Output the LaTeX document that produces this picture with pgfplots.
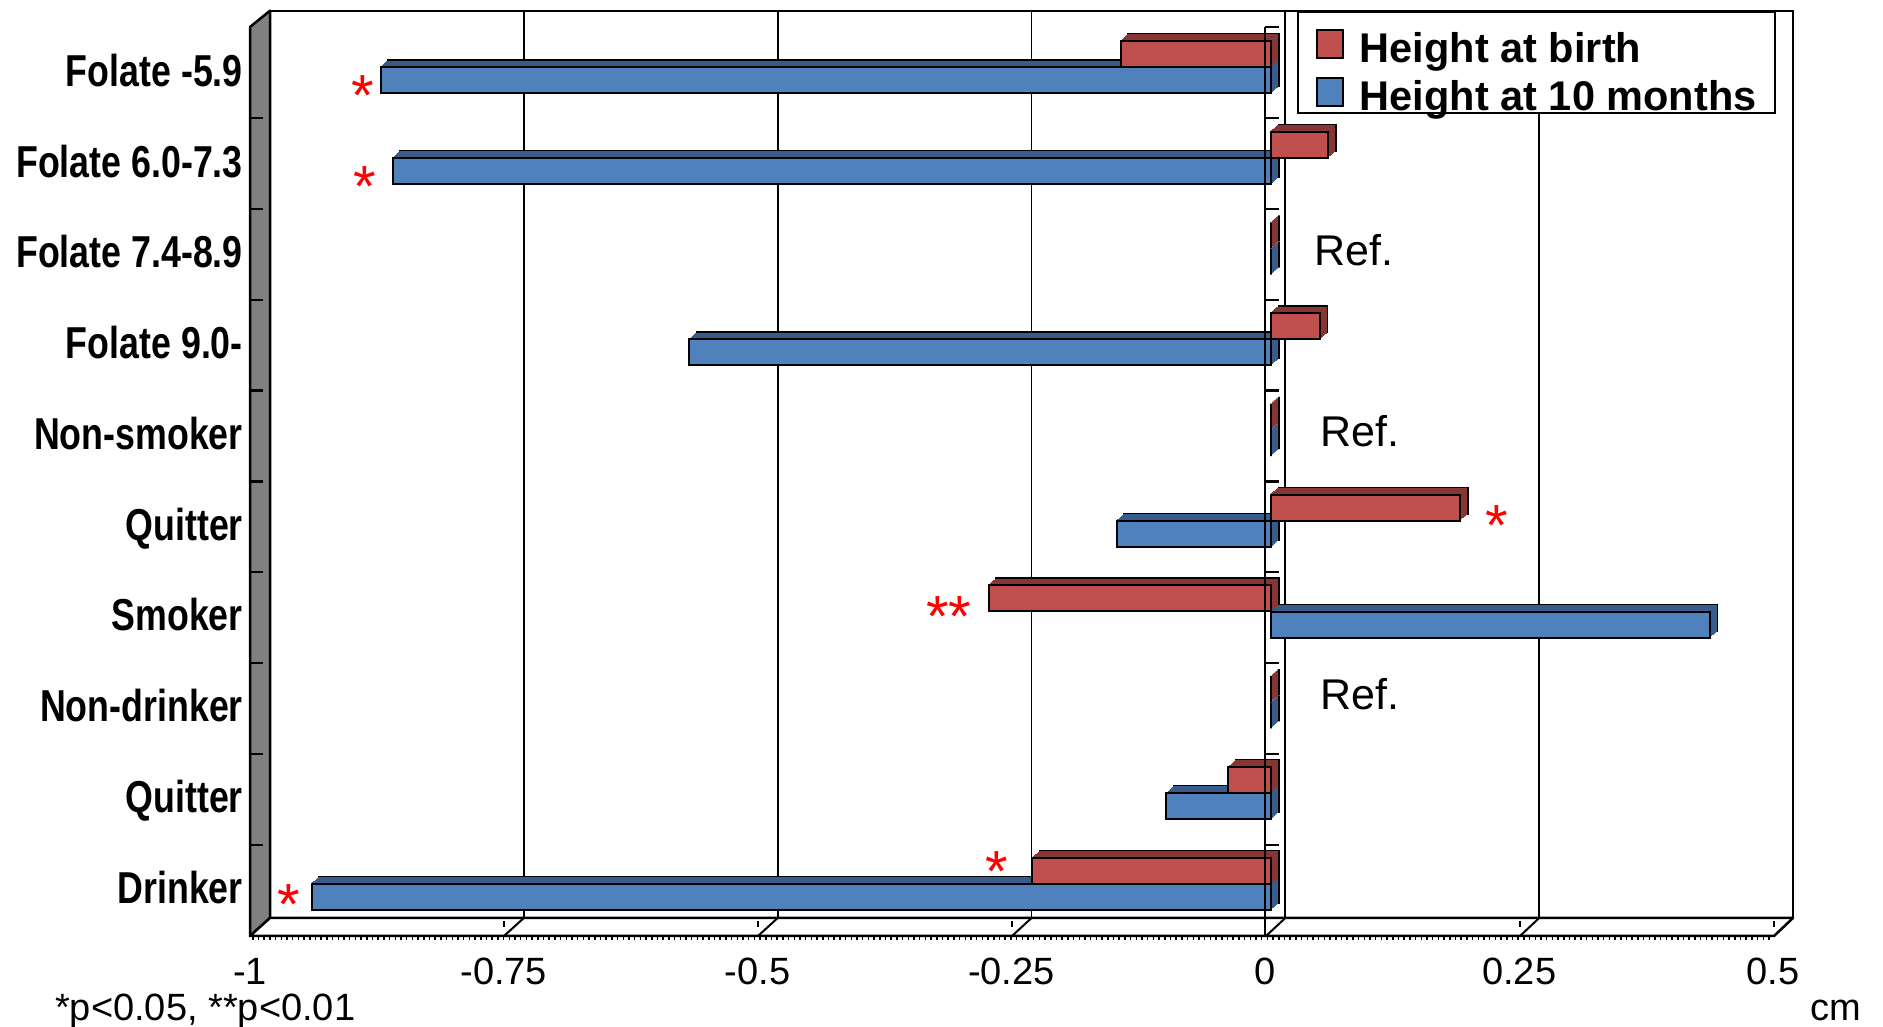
\documentclass[border=0pt]{standalone}
\usepackage{pgfplots}
\pgfplotsset{compat=1.18}
\usepackage{pgfplotstable}
\usepackage{fontspec}
\setmainfont{Liberation Sans}
\newfontfamily\catfont[FakeStretch=0.8]{Liberation Sans Bold}
\newfontfamily\boldfont{Liberation Sans Bold}
\definecolor{redF}{HTML}{C0504D}
\definecolor{redD}{HTML}{883634}
\definecolor{blueF}{HTML}{4F81BD}
\definecolor{blueD}{HTML}{385D8C}
\definecolor{wallgray}{HTML}{808080}

\pgfplotstableread{
y v
0.5 -0.148
1.5 0.056
2.5 0
3.5 0.048
4.5 0
5.5 0.186
6.5 -0.278
7.5 0
8.5 -0.042
9.5 -0.235
}\birth
\pgfplotstableread{
y v
0.5 -0.877
1.5 -0.865
2.5 0
3.5 -0.573
4.5 0
5.5 -0.152
6.5 0.432
7.5 0
8.5 -0.103
9.5 -0.945
}\tenmonths

\pgfplotsset{
  depth/.style 2 args={forget plot, xbar, bar width=26pt, bar shift=0pt, line width=1pt, xshift=#1, yshift=#2},
  face/.style 2 args={forget plot, xbar, bar width=26pt, bar shift=0pt, draw=black, line width=2pt, xshift=#1, yshift=#2},
}

\begin{document}
\begin{tikzpicture}
\fill[white] (0,0) rectangle (1883pt,1026pt);
\useasboundingbox (0,0) rectangle (1883pt,1026pt);
\begin{axis}[
  at={(270pt,108pt)}, anchor=south west,
  scale only axis, width=1523pt, height=907.3pt,
  xmin=-1, xmax=0.5, ymin=0, ymax=10, y dir=reverse,
  clip=false,
  axis line style={line width=2pt},
  xtick={-1,-0.75,-0.5,-0.25,0,0.25,0.5},
  xticklabels={-1,-0.75,-0.5,-0.25,0,0.25,0.5},
  xmajorgrids, grid style={black, line width=1.8pt},
  ytick={0.5,1.5,...,9.5},
  yticklabels={Folate -5.9, Folate 6.0-7.3, Folate 7.4-8.9, Folate 9.0-, Non-smoker, Quitter, Smoker, Non-drinker, Quitter, Drinker},
  major tick length=0pt,
  xticklabel style={font=\fontsize{38}{40}\selectfont, anchor=base, inner sep=0pt, xshift=-20pt, yshift=-66.7pt},
  yticklabel style={font=\catfont\fontsize{44.7}{50}\selectfont, anchor=base east, inner sep=0pt, xshift=-27pt, yshift=-30.4pt},
  legend style={at={(0.6743,1)}, anchor=north west, draw=black, line width=2pt, fill=white,
    inner xsep=18pt, inner ysep=2.6pt, row sep=0pt, column sep=16pt,
    font=\boldfont\fontsize{41.5}{46}\selectfont,
    nodes={inner sep=0pt, text height=48pt, text depth=0pt}},
  legend cell align=left,
]
% ---- Height at 10 months (blue) ----
\addplot[face={-6.6pt}{-17.1pt}, fill=blueD] table[x=v,y=y]{\tenmonths};
\addplot[depth={-7.5625pt}{-17.975pt}, fill=blueD, draw=blueD] table[x=v,y=y]{\tenmonths};
\addplot[depth={-8.525pt}{-18.85pt}, fill=blueD, draw=blueD] table[x=v,y=y]{\tenmonths};
\addplot[depth={-9.4875pt}{-19.725pt}, fill=blueD, draw=blueD] table[x=v,y=y]{\tenmonths};
\addplot[depth={-10.45pt}{-20.6pt}, fill=blueD, draw=blueD] table[x=v,y=y]{\tenmonths};
\addplot[depth={-11.4125pt}{-21.475pt}, fill=blueD, draw=blueD] table[x=v,y=y]{\tenmonths};
\addplot[depth={-12.375pt}{-22.35pt}, fill=blueD, draw=blueD] table[x=v,y=y]{\tenmonths};
\addplot[depth={-13.3375pt}{-23.225pt}, fill=blueD, draw=blueD] table[x=v,y=y]{\tenmonths};
\addplot[face={-14.3pt}{-24.1pt}, fill=blueF] table[x=v,y=y]{\tenmonths};
% ---- Height at birth (red) ----
\addplot[face={-6.6pt}{9.1pt}, fill=redD] table[x=v,y=y]{\birth};
\addplot[depth={-7.5625pt}{8.225pt}, fill=redD, draw=redD] table[x=v,y=y]{\birth};
\addplot[depth={-8.525pt}{7.35pt}, fill=redD, draw=redD] table[x=v,y=y]{\birth};
\addplot[depth={-9.4875pt}{6.475pt}, fill=redD, draw=redD] table[x=v,y=y]{\birth};
\addplot[depth={-10.45pt}{5.6pt}, fill=redD, draw=redD] table[x=v,y=y]{\birth};
\addplot[depth={-11.4125pt}{4.725pt}, fill=redD, draw=redD] table[x=v,y=y]{\birth};
\addplot[depth={-12.375pt}{3.85pt}, fill=redD, draw=redD] table[x=v,y=y]{\birth};
\addplot[depth={-13.3375pt}{2.975pt}, fill=redD, draw=redD] table[x=v,y=y]{\birth};
\addplot[face={-14.3pt}{2.1pt}, fill=redF] table[x=v,y=y]{\birth};

\addlegendimage{legend image code/.code={\draw[fill=redF, draw=black, line width=2pt] (0pt,-20pt) rectangle (26pt,8pt);}}
\addlegendentry{Height at birth}
\addlegendimage{legend image code/.code={\draw[fill=blueF, draw=black, line width=2pt] (0pt,-20pt) rectangle (26pt,8pt);}}
\addlegendentry{Height at 10 months}

% Ref. labels
\node[anchor=base west, inner sep=0pt, font=\fontsize{43}{45}\selectfont] at (axis cs:0.0282,2.803) {Ref.};
\node[anchor=base west, inner sep=0pt, font=\fontsize{43}{45}\selectfont] at (axis cs:0.0342,4.798) {Ref.};
\node[anchor=base west, inner sep=0pt, font=\fontsize{43}{45}\selectfont] at (axis cs:0.0342,7.707) {Ref.};
% significance marks
\begin{scope}[every node/.style={anchor=base, inner sep=0pt, text=red, font=\fontsize{58}{60}\selectfont}]
\node at (axis cs:-0.9089,1.150) {*};
\node at (axis cs:-0.9064,2.160) {*};
\node at (axis cs:0.2080,5.890) {*};
\node at (axis cs:-0.3313,6.900) {**};
\node at (axis cs:-0.284,9.710) {*};
\node at (axis cs:-0.9813,10.070) {*};
\end{scope}
\end{axis}

% side wall
\draw[fill=wallgray, line width=2.5pt, line join=round] (250pt,999pt) -- (270pt,1015.3pt) -- (270pt,108pt) -- (250pt,90pt) -- cycle;
\foreach \k in {1,...,9} \draw[line width=2.2pt] (250pt,{(999-90.9*\k)*1pt}) -- ++(13pt,0pt);
% floor
\draw[fill=white, line width=2.5pt, line join=round] (250pt,90pt) -- (270pt,108pt) -- (1793pt,108pt) -- (1774pt,90pt) -- cycle;
\foreach \v in {-0.75,-0.5,-0.25,0,0.25} \draw[line width=2pt] ({(250+(\v+1)*1016)*1pt},90pt) -- ({(270+(\v+1)*1015.33)*1pt},108pt);
\foreach \v in {-0.75,-0.5,-0.25,0.25,0.5} \draw[line width=2pt] ({(250+(\v+1)*1016)*1pt},99pt) -- ++(0pt,6pt);
\draw[line width=3pt, dash pattern=on 1.5pt off 4.2pt] (252pt,87pt) -- (1772pt,87pt);
% front zero plane line
\draw[line width=2.5pt] (1265pt,999pt) -- (1265pt,90pt);
\foreach \k in {0,...,10} \draw[line width=2.2pt] (1265pt,{(999-90.9*\k)*1pt}) -- ++(14pt,0pt);
% footnote and unit
\node[anchor=base west, inner sep=0pt, font=\fontsize{38}{40}\selectfont] at (55pt,6pt) {*p<0.05, **p<0.01};
\node[anchor=base west, inner sep=0pt, font=\fontsize{38}{40}\selectfont] at (1810pt,6pt) {cm};
\end{tikzpicture}
\end{document}
